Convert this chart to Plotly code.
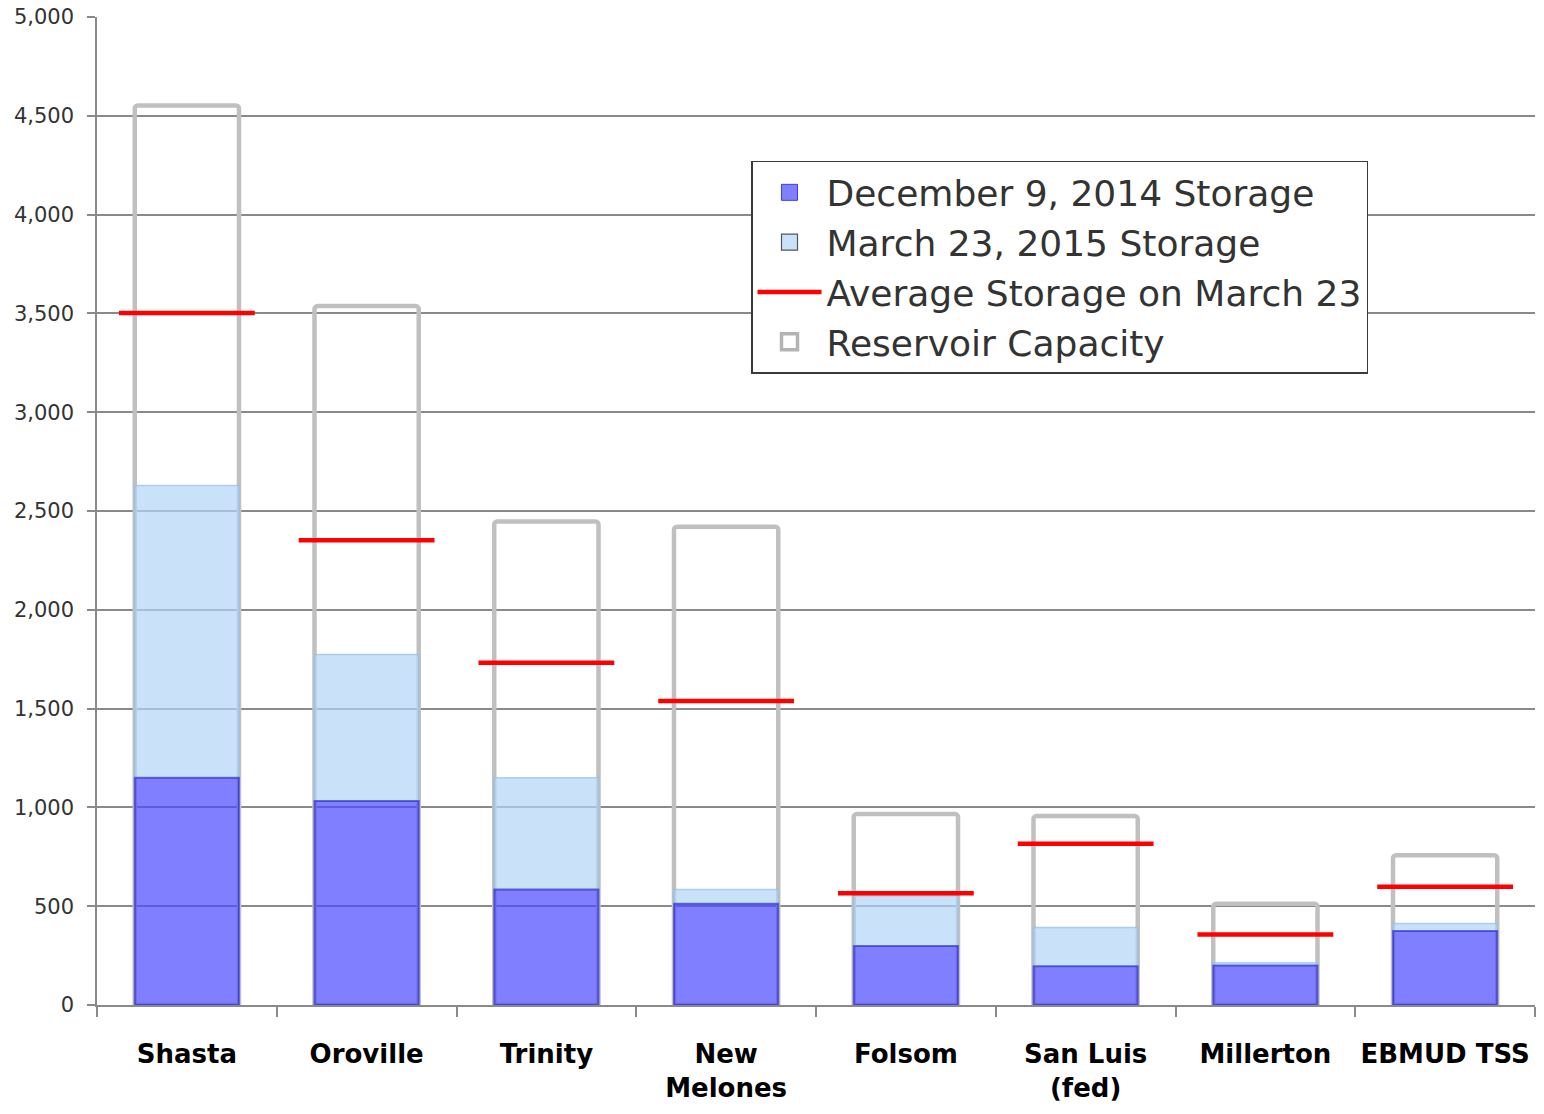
import plotly.graph_objects as go

# Reservoir storage, thousand acre-feet
reservoirs = ["Shasta", "Oroville", "Trinity", "New<br>Melones", "Folsom",
              "San Luis<br>(fed)", "Millerton", "EBMUD TSS"]
storage_dec_2014 = [1150, 1032, 585, 513, 298, 196, 200, 374]
storage_mar_2015 = [2629, 1774, 1150, 585, 553, 392, 214, 413]
avg_mar_23 = [3502, 2352, 1732, 1538, 565, 816, 357, 599]
capacity = [4552, 3537, 2447, 2420, 967, 957, 512, 758]

y_ticks = list(range(0, 5001, 500))

GRID = "#8a8a8a"
DEC_FILL = "rgba(72,72,255,0.7)"
DEC_EDGE = "rgba(40,40,200,0.6)"
MAR_FILL = "rgba(178,214,248,0.7)"
MAR_EDGE = "rgba(150,190,228,0.7)"
CAP_EDGE = "#c0c0c0"
AVG_RED = "#ff0000"

fig = go.Figure()

# Capacity: open outline bars
fig.add_trace(go.Bar(
    x=reservoirs, y=capacity, name="Reservoir Capacity", showlegend=False,
    marker=dict(color="rgba(0,0,0,0)", line=dict(color=CAP_EDGE, width=4.5),
                cornerradius=3),
))

# March storage drawn above the December level
fig.add_trace(go.Bar(
    x=reservoirs,
    y=[m - d for m, d in zip(storage_mar_2015, storage_dec_2014)],
    base=storage_dec_2014,
    name="March 23, 2015 Storage", showlegend=False,
    marker=dict(color=MAR_FILL, line=dict(color=MAR_EDGE, width=1.5)),
))

fig.add_trace(go.Bar(
    x=reservoirs, y=storage_dec_2014, name="December 9, 2014 Storage",
    showlegend=False,
    marker=dict(color=DEC_FILL, line=dict(color=DEC_EDGE, width=2)),
))

# Historical average as short horizontal dashes
fig.add_trace(go.Scatter(
    x=reservoirs, y=avg_mar_23, mode="markers", showlegend=False,
    name="Average Storage on March 23",
    marker=dict(symbol="line-ew", size=97,
                line=dict(color=AVG_RED, width=4.5)),
))

# Legend entries with larger swatches
legend_items = [
    ("December 9, 2014 Storage", dict(mode="markers", marker=dict(
        symbol="square", size=28, color="#7f7fff",
        line=dict(color="#3a3aff", width=1)))),
    ("March 23, 2015 Storage", dict(mode="markers", marker=dict(
        symbol="square", size=28, color="#c9e2fa",
        line=dict(color="#555555", width=1.2)))),
    ("Average Storage on March 23", dict(mode="lines", line=dict(
        color=AVG_RED, width=4.5))),
    ("Reservoir Capacity", dict(mode="markers", marker=dict(
        symbol="square", size=28, color="rgba(255,255,255,1)",
        line=dict(color="#b4b4b4", width=3.5)))),
]
for rank, (label, style) in enumerate(legend_items, start=1):
    fig.add_trace(go.Scatter(x=[None], y=[None], name=label,
                             legendrank=rank, **style))

fig.update_layout(
    width=1544, height=1114,
    margin=dict(l=97, r=9, t=17, b=109),
    paper_bgcolor="white", plot_bgcolor="white",
    barmode="overlay", bargap=0.42,
    font=dict(family="DejaVu Sans", color="#333333"),
    legend=dict(
        x=0.4548, y=0.8543, xanchor="left", yanchor="top",
        bgcolor="white", bordercolor="#3a3a3a", borderwidth=1.5,
        font=dict(family="DejaVu Sans", size=36, color="#333333"),
        itemwidth=64, tracegroupgap=0, itemsizing="trace",
    ),
    showlegend=True,
)

fig.update_xaxes(
    type="category", range=[-0.5, 7.5], automargin=False,
    showline=True, linecolor=GRID, linewidth=1.5,
    ticks="outside", tickson="boundaries", ticklen=10, tickcolor=GRID,
    tickwidth=1.5, showgrid=False,
    tickfont=dict(family="DejaVu Sans", size=26, color="#000000", weight="bold"),
    ticklabelstandoff=25,
)
fig.update_yaxes(
    range=[0, 5000], tickvals=y_ticks, tickformat=",", automargin=False,
    showline=True, linecolor=GRID, linewidth=1.5,
    ticks="outside", ticklen=8, tickcolor=GRID, tickwidth=1.5,
    showgrid=True, gridcolor=GRID, gridwidth=1.5,
    zeroline=False,
    tickfont=dict(family="DejaVu Sans", size=21, color="#333333"),
    ticklabelstandoff=9,
)

fig.write_html("out.html")
